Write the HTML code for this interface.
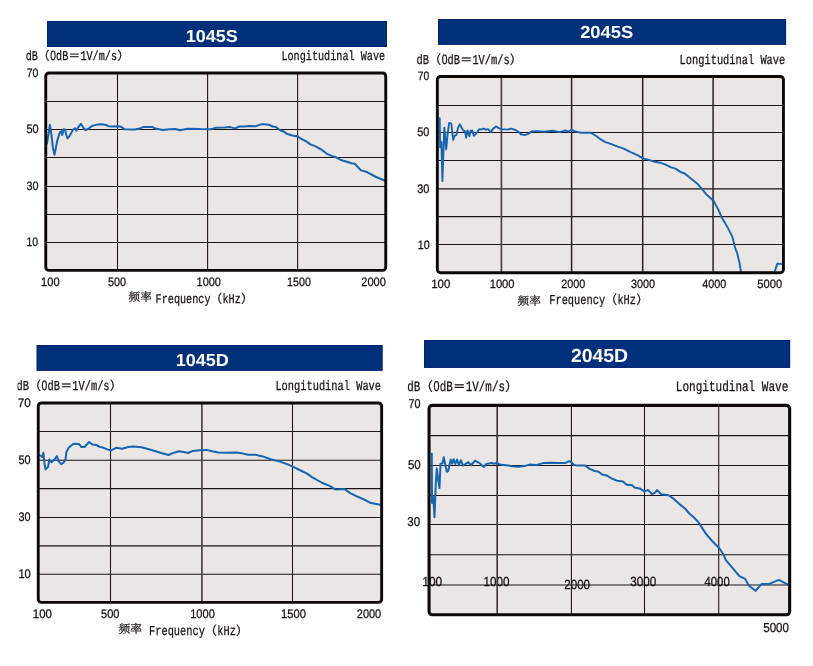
<!DOCTYPE html>
<html lang="zh">
<head>
<meta charset="utf-8">
<title>Frequency response 1045S 2045S 1045D 2045D</title>
<style>
html,body{margin:0;padding:0;background:#ffffff;}
body{width:813px;height:666px;overflow:hidden;position:relative;}
svg{position:absolute;left:0;top:0;display:block;}
text{text-rendering:geometricPrecision;}
.t{stroke:#15100e;stroke-width:0.25px;}
</style>
</head>
<body>
<svg width="813" height="666" viewBox="0 0 813 666">
<rect x="0" y="0" width="813" height="666" fill="#ffffff"/>
<rect x="47" y="21" width="340" height="26" fill="#00307c"/>
<rect x="47.5" y="21.5" width="339" height="25" fill="none" stroke="#00226e" stroke-width="1"/>
<rect x="45.75" y="72.95" width="340" height="197.4" rx="3.2" fill="#e9e6e3"/>
<clipPath id="cp1"><rect x="45.75" y="72.95" width="340" height="197.4"/></clipPath>
<line x1="45.3" y1="101.5" x2="386.2" y2="101.5" stroke="#1c1312" stroke-width="1.08"/>
<line x1="45.3" y1="129.5" x2="386.2" y2="129.5" stroke="#1c1312" stroke-width="1.08"/>
<line x1="45.3" y1="157.5" x2="386.2" y2="157.5" stroke="#1c1312" stroke-width="1.08"/>
<line x1="45.3" y1="186.5" x2="386.2" y2="186.5" stroke="#1c1312" stroke-width="1.08"/>
<line x1="45.3" y1="214.5" x2="386.2" y2="214.5" stroke="#1c1312" stroke-width="1.08"/>
<line x1="45.3" y1="242.5" x2="386.2" y2="242.5" stroke="#1c1312" stroke-width="1.08"/>
<line x1="117.5" y1="72.5" x2="117.5" y2="270.8" stroke="#1c1312" stroke-width="1.08"/>
<line x1="207.6" y1="72.5" x2="207.6" y2="270.8" stroke="#1c1312" stroke-width="1.08"/>
<line x1="297.6" y1="72.5" x2="297.6" y2="270.8" stroke="#1c1312" stroke-width="1.08"/>
<path d="M47 143.5 L48.4 134.6 L49.9 124.8 L51.4 134.6 L52.9 147.4 L54.5 154.8 L55.8 148.4 L57.3 140.5 L59.7 132.6 L61.2 131.2 L62.2 135.1 L63.7 129.2 L65.2 129.7 L66.1 134.6 L67.6 138.3 L70.1 135.1 L73 129.7 L75 128.2 L76.3 130.7 L78 127.7 L80.9 123.8 L83.4 127.7 L85.8 130.2 L88.3 128.7 L92.2 125.9 L97.1 124.6 L102.1 124.3 L106 125 L108.5 126.2 L112.9 126.5 L117.8 126.2 L120.2 126.5 L122 127.4 L124.5 129.2 L134.9 129.6 L139.8 128.6 L143.5 126.9 L152.1 126.9 L155.2 128.6 L163.2 130 L169.4 129.2 L175.5 129 L179.8 130.2 L187.8 128.7 L200.1 129.1 L211.1 129.2 L216 127.8 L224.6 127.5 L230.1 127.1 L235.1 128.4 L239.4 126.5 L244.3 126.6 L249.2 125.9 L255.4 126.2 L262.1 124.1 L268.9 124.7 L272.6 126.5 L275.6 126.9 L280 130.2 L284.3 131.8 L286.1 133.5 L292.3 135.5 L297.6 136.4 L300.5 138.5 L305.4 140.9 L310.9 144.6 L315.2 146.1 L318.3 148 L321.4 149.5 L326.9 153.8 L331.8 155.9 L336.1 157.3 L341.7 160.3 L346 161.5 L351.5 163.3 L354.8 163.7 L360.7 170.1 L367.5 172.3 L376.1 177 L384.5 180.5" fill="none" stroke="#1465b4" stroke-width="2" stroke-linejoin="round" stroke-linecap="round" clip-path="url(#cp1)"/>
<rect x="45.75" y="72.95" width="340" height="197.4" rx="3.2" fill="none" stroke="#0e0909" stroke-width="2.9"/>
<text transform="translate(185.74 41.6) scale(1.04 1)" font-family='"Liberation Sans", "IPAGothic", sans-serif' font-size="17.34" font-weight="bold" fill="#ffffff">1045S</text>
<text class="t" transform="translate(25.7 60) scale(0.76 1)" font-family='"Liberation Mono", "IPAGothic", monospace' font-size="13.38" fill="#15100e">dB</text>
<text class="t" x="37.86" y="60" font-family='"Liberation Mono", "IPAGothic", "Noto Sans CJK JP", monospace' font-size="12.16" fill="#15100e">（</text>
<text class="t" transform="translate(50.02 60) scale(0.76 1)" font-family='"Liberation Mono", "IPAGothic", monospace' font-size="13.38" fill="#15100e"><tspan font-family='"Liberation Sans", "IPAGothic", sans-serif' dx="0.29">0</tspan><tspan dx="0.29">dB</tspan></text>
<text class="t" x="68.26" y="60" font-family='"Liberation Mono", "IPAGothic", "Noto Sans CJK JP", monospace' font-size="12.16" fill="#15100e">＝</text>
<text class="t" transform="translate(80.42 60) scale(0.76 1)" font-family='"Liberation Mono", "IPAGothic", monospace' font-size="13.38" fill="#15100e">1V/m/s</text>
<text class="t" x="116.9" y="60" font-family='"Liberation Mono", "IPAGothic", "Noto Sans CJK JP", monospace' font-size="12.16" fill="#15100e">）</text>
<text class="t" transform="translate(281.4 60) scale(0.76 1)" font-family='"Liberation Mono", "IPAGothic", monospace' font-size="13.38" fill="#15100e">Longitudinal Wave</text>
<text class="t" transform="translate(26.73 76.5) scale(0.85 1)" font-family='"Liberation Sans", "IPAGothic", sans-serif' font-size="12.31" font-weight="normal" fill="#15100e">70</text>
<text class="t" transform="translate(26.42 133.3) scale(0.88 1)" font-family='"Liberation Sans", "IPAGothic", sans-serif' font-size="12.45" font-weight="normal" fill="#15100e">50</text>
<text class="t" transform="translate(26.47 189.7) scale(0.88 1)" font-family='"Liberation Sans", "IPAGothic", sans-serif' font-size="12.31" font-weight="normal" fill="#15100e">30</text>
<text class="t" transform="translate(26.47 246.2) scale(0.85 1)" font-family='"Liberation Sans", "IPAGothic", sans-serif' font-size="12.31" font-weight="normal" fill="#15100e">10</text>
<text class="t" transform="translate(41.09 286) scale(0.9 1)" font-family='"Liberation Sans", "IPAGothic", sans-serif' font-size="12.31" font-weight="normal" fill="#15100e">100</text>
<text class="t" transform="translate(107.92 286) scale(0.88 1)" font-family='"Liberation Sans", "IPAGothic", sans-serif' font-size="12.31" font-weight="normal" fill="#15100e">500</text>
<text class="t" transform="translate(196.61 286) scale(0.89 1)" font-family='"Liberation Sans", "IPAGothic", sans-serif' font-size="12.31" font-weight="normal" fill="#15100e">1000</text>
<text class="t" transform="translate(287.04 286) scale(0.87 1)" font-family='"Liberation Sans", "IPAGothic", sans-serif' font-size="12.31" font-weight="normal" fill="#15100e">1500</text>
<text class="t" transform="translate(361.22 286) scale(0.9 1)" font-family='"Liberation Sans", "IPAGothic", sans-serif' font-size="12.31" font-weight="normal" fill="#15100e">2000</text>
<text class="t" x="128.6" y="301.25" font-family='"Liberation Serif", "Noto Serif CJK SC", "Noto Sans CJK SC", serif' font-size="11.55" fill="#3a3330">频率</text>
<text class="t" transform="translate(155.6 302.5) scale(0.76 1)" font-family='"Liberation Mono", "IPAGothic", monospace' font-size="13.38" fill="#15100e">Frequency</text>
<text class="t" x="210.32" y="302.5" font-family='"Liberation Mono", "IPAGothic", "Noto Sans CJK JP", monospace' font-size="12.16" fill="#15100e">（</text>
<text class="t" transform="translate(222.48 302.5) scale(0.76 1)" font-family='"Liberation Mono", "IPAGothic", monospace' font-size="13.38" fill="#15100e">kHz</text>
<text class="t" x="240.72" y="302.5" font-family='"Liberation Mono", "IPAGothic", "Noto Sans CJK JP", monospace' font-size="12.16" fill="#15100e">）</text>
<rect x="438" y="19" width="348.05" height="25.7" fill="#00307c"/>
<rect x="438.5" y="19.5" width="347.05" height="24.7" fill="none" stroke="#00226e" stroke-width="1"/>
<rect x="437.35" y="76.45" width="346.1" height="196.3" rx="3.2" fill="#e9e6e3"/>
<clipPath id="cp2"><rect x="437.35" y="76.45" width="346.1" height="196.3"/></clipPath>
<line x1="436.9" y1="105.5" x2="783.9" y2="105.5" stroke="#1c1312" stroke-width="1.08"/>
<line x1="436.9" y1="132.5" x2="783.9" y2="132.5" stroke="#1c1312" stroke-width="1.08"/>
<line x1="436.9" y1="160.5" x2="783.9" y2="160.5" stroke="#1c1312" stroke-width="1.08"/>
<line x1="436.9" y1="188.9" x2="783.9" y2="188.9" stroke="#1c1312" stroke-width="1.08"/>
<line x1="436.9" y1="216.6" x2="783.9" y2="216.6" stroke="#1c1312" stroke-width="1.08"/>
<line x1="436.9" y1="244.5" x2="783.9" y2="244.5" stroke="#1c1312" stroke-width="1.08"/>
<line x1="501.4" y1="76" x2="501.4" y2="273.2" stroke="#4a4444" stroke-width="1.7"/>
<line x1="571.6" y1="76" x2="571.6" y2="273.2" stroke="#2a2424" stroke-width="1.5"/>
<line x1="642.7" y1="76" x2="642.7" y2="273.2" stroke="#2a2424" stroke-width="1.5"/>
<line x1="713.1" y1="76" x2="713.1" y2="273.2" stroke="#2a2424" stroke-width="1.5"/>
<path d="M439.7 118.2 L440.1 147.3 L441.4 141.9 L442.4 181.1 L443.7 144.6 L444.3 127.7 L446.2 149.3 L447.5 135.1 L449.1 123 L451.3 123.6 L453.2 139.9 L454.5 135.8 L456.3 135.1 L458.1 127.7 L459.9 124.3 L463.1 130.4 L465.1 131.4 L466.2 137.8 L467.5 130.4 L469.4 136.2 L470.5 130.8 L472.1 130.4 L473.9 135.8 L475.9 133.8 L479.3 129.1 L481.3 129.5 L483.3 128.6 L486 129.7 L488.1 129.1 L490.8 131.8 L493.5 128.4 L495.9 126.4 L498.9 128.1 L501.6 129.1 L507.4 129.6 L511.1 128.7 L515.4 130 L518.5 131.8 L520.9 134.3 L524.6 135.1 L528.3 133.9 L532 131.4 L536.9 131.2 L544.3 131.7 L552.9 130.8 L559.7 132.1 L564 130.8 L565.8 130.5 L568.3 131.7 L571.6 129.6 L575 131.4 L581.2 132.8 L591 132.7 L596.2 136 L601.1 139.7 L605.4 142.1 L612.1 144.4 L617.7 146.7 L623.2 148.3 L630.6 152.2 L638 155.4 L642.9 158.4 L647.8 159.6 L654 161.5 L660.1 162.7 L665 164.3 L671.2 167.4 L675.5 168.6 L680.4 171.9 L684.7 173.5 L689 177.1 L697.1 183.4 L702.5 189.7 L706.1 194.2 L713.3 200.5 L717.8 208.6 L722.3 218.6 L727.7 227.6 L732.3 236.6 L735 247.4 L737.3 253.7 L739.5 262.7 L741.1 272.8 L774.4 272.8 L777.3 263.6 L782.5 264.1" fill="none" stroke="#1465b4" stroke-width="1.9" stroke-linejoin="round" stroke-linecap="round" clip-path="url(#cp2)"/>
<rect x="437.35" y="76.45" width="346.1" height="196.3" rx="3.2" fill="none" stroke="#0e0909" stroke-width="2.9"/>
<text transform="translate(580.14 37.8) scale(1.05 1)" font-family='"Liberation Sans", "IPAGothic", sans-serif' font-size="17.48" font-weight="bold" fill="#ffffff">2045S</text>
<text class="t" transform="translate(416.6 63.5) scale(0.76 1)" font-family='"Liberation Mono", "IPAGothic", monospace' font-size="13.64" fill="#15100e">dB</text>
<text class="t" x="429" y="63.5" font-family='"Liberation Mono", "IPAGothic", "Noto Sans CJK JP", monospace' font-size="12.4" fill="#15100e">（</text>
<text class="t" transform="translate(441.4 63.5) scale(0.76 1)" font-family='"Liberation Mono", "IPAGothic", monospace' font-size="13.64" fill="#15100e"><tspan font-family='"Liberation Sans", "IPAGothic", sans-serif' dx="0.3">0</tspan><tspan dx="0.3">dB</tspan></text>
<text class="t" x="460" y="63.5" font-family='"Liberation Mono", "IPAGothic", "Noto Sans CJK JP", monospace' font-size="12.4" fill="#15100e">＝</text>
<text class="t" transform="translate(472.4 63.5) scale(0.76 1)" font-family='"Liberation Mono", "IPAGothic", monospace' font-size="13.64" fill="#15100e">1V/m/s</text>
<text class="t" x="509.6" y="63.5" font-family='"Liberation Mono", "IPAGothic", "Noto Sans CJK JP", monospace' font-size="12.4" fill="#15100e">）</text>
<text class="t" transform="translate(679.6 63.5) scale(0.76 1)" font-family='"Liberation Mono", "IPAGothic", monospace' font-size="13.64" fill="#15100e">Longitudinal Wave</text>
<text class="t" transform="translate(417.83 80.1) scale(0.85 1)" font-family='"Liberation Sans", "IPAGothic", sans-serif' font-size="12.17" font-weight="normal" fill="#15100e">70</text>
<text class="t" transform="translate(417.21 136.4) scale(0.88 1)" font-family='"Liberation Sans", "IPAGothic", sans-serif' font-size="12.45" font-weight="normal" fill="#15100e">50</text>
<text class="t" transform="translate(417.27 192.7) scale(0.88 1)" font-family='"Liberation Sans", "IPAGothic", sans-serif' font-size="12.45" font-weight="normal" fill="#15100e">30</text>
<text class="t" transform="translate(417.73 248.9) scale(0.88 1)" font-family='"Liberation Sans", "IPAGothic", sans-serif' font-size="12.17" font-weight="normal" fill="#15100e">10</text>
<text class="t" transform="translate(431.14 287.8) scale(0.96 1)" font-family='"Liberation Sans", "IPAGothic", sans-serif' font-size="12.03" font-weight="normal" fill="#15100e">100</text>
<text class="t" transform="translate(489.68 287.8) scale(0.93 1)" font-family='"Liberation Sans", "IPAGothic", sans-serif' font-size="12.03" font-weight="normal" fill="#15100e">1000</text>
<text class="t" transform="translate(561.33 287.8) scale(0.9 1)" font-family='"Liberation Sans", "IPAGothic", sans-serif' font-size="12.03" font-weight="normal" fill="#15100e">2000</text>
<text class="t" transform="translate(630.98 287.8) scale(0.9 1)" font-family='"Liberation Sans", "IPAGothic", sans-serif' font-size="12.03" font-weight="normal" fill="#15100e">3000</text>
<text class="t" transform="translate(702.26 287.8) scale(0.9 1)" font-family='"Liberation Sans", "IPAGothic", sans-serif' font-size="12.03" font-weight="normal" fill="#15100e">4000</text>
<text class="t" transform="translate(757.31 287.8) scale(0.93 1)" font-family='"Liberation Sans", "IPAGothic", sans-serif' font-size="12.03" font-weight="normal" fill="#15100e">5000</text>
<text class="t" x="517.6" y="305.23" font-family='"Liberation Serif", "Noto Serif CJK SC", "Noto Sans CJK SC", serif' font-size="11.65" fill="#3a3330">频率</text>
<text class="t" transform="translate(549.2 303.6) scale(0.76 1)" font-family='"Liberation Mono", "IPAGothic", monospace' font-size="13.64" fill="#15100e">Frequency</text>
<text class="t" x="605" y="303.6" font-family='"Liberation Mono", "IPAGothic", "Noto Sans CJK JP", monospace' font-size="12.4" fill="#15100e">（</text>
<text class="t" transform="translate(617.4 303.6) scale(0.76 1)" font-family='"Liberation Mono", "IPAGothic", monospace' font-size="13.64" fill="#15100e">kHz</text>
<text class="t" x="636" y="303.6" font-family='"Liberation Mono", "IPAGothic", "Noto Sans CJK JP", monospace' font-size="12.4" fill="#15100e">）</text>
<rect x="36.7" y="345" width="345.8" height="25.7" fill="#00307c"/>
<rect x="37.2" y="345.5" width="344.8" height="24.7" fill="none" stroke="#00226e" stroke-width="1"/>
<rect x="38.25" y="402.95" width="343.4" height="199.4" rx="3.2" fill="#e9e6e3"/>
<clipPath id="cp3"><rect x="38.25" y="402.95" width="343.4" height="199.4"/></clipPath>
<line x1="37.8" y1="431.5" x2="382.1" y2="431.5" stroke="#1c1312" stroke-width="1.08"/>
<line x1="37.8" y1="460.3" x2="382.1" y2="460.3" stroke="#1c1312" stroke-width="1.08"/>
<line x1="37.8" y1="488.6" x2="382.1" y2="488.6" stroke="#1c1312" stroke-width="1.08"/>
<line x1="37.8" y1="517.5" x2="382.1" y2="517.5" stroke="#1c1312" stroke-width="1.08"/>
<line x1="37.8" y1="545.9" x2="382.1" y2="545.9" stroke="#1c1312" stroke-width="1.08"/>
<line x1="37.8" y1="574.3" x2="382.1" y2="574.3" stroke="#1c1312" stroke-width="1.08"/>
<line x1="110.5" y1="402.5" x2="110.5" y2="602.8" stroke="#1c1312" stroke-width="1.08"/>
<line x1="201.9" y1="402.5" x2="201.9" y2="602.8" stroke="#4a4444" stroke-width="1.7"/>
<line x1="292.5" y1="402.5" x2="292.5" y2="602.8" stroke="#1c1312" stroke-width="1.08"/>
<path d="M39.9 455.2 L42.2 457.1 L43.4 452.8 L44.4 463.2 L45.6 469.4 L48.1 466.9 L49.3 459.5 L51.4 462.2 L54.5 459.5 L56.9 456.1 L58.8 461.4 L61.2 464.2 L63.7 462.6 L65.5 459.5 L66.4 452.1 L68.6 447.8 L73.5 443.8 L79.1 444.1 L81.5 447 L84.6 447 L88.9 442.1 L92.6 444.5 L96.3 445 L100 447 L103 447.6 L107.3 449.4 L111 450.3 L116 447.8 L122.1 448.7 L128.3 447 L133.4 446.4 L141.4 447.2 L150.6 449.7 L160.4 452.8 L168.4 455 L172.7 453.1 L178.9 451.2 L183.8 452.1 L188.1 453 L193 450.9 L199.8 450.3 L206.6 449.9 L212.1 451.2 L218.3 452.5 L225.8 452.8 L236.9 452.5 L243.1 453.6 L248 454.8 L255.4 454.8 L262.7 456.4 L271.4 459.5 L280 461.6 L287.3 464.2 L292.9 466.7 L299.6 470 L307.1 473.6 L312 477.1 L322.4 483 L328.6 485.4 L335.4 489.4 L344.6 489.1 L350.1 493.1 L356.3 496.1 L363 499 L371 503.1 L380.3 504.7" fill="none" stroke="#1465b4" stroke-width="2" stroke-linejoin="round" stroke-linecap="round" clip-path="url(#cp3)"/>
<rect x="38.25" y="402.95" width="343.4" height="199.4" rx="3.2" fill="none" stroke="#0e0909" stroke-width="2.9"/>
<text transform="translate(175.63 365.6) scale(1.04 1)" font-family='"Liberation Sans", "IPAGothic", sans-serif' font-size="17.34" font-weight="bold" fill="#ffffff">1045D</text>
<text class="t" transform="translate(16.5 389.6) scale(0.76 1)" font-family='"Liberation Mono", "IPAGothic", monospace' font-size="13.64" fill="#15100e">dB</text>
<text class="t" x="28.9" y="389.6" font-family='"Liberation Mono", "IPAGothic", "Noto Sans CJK JP", monospace' font-size="12.4" fill="#15100e">（</text>
<text class="t" transform="translate(41.3 389.6) scale(0.76 1)" font-family='"Liberation Mono", "IPAGothic", monospace' font-size="13.64" fill="#15100e"><tspan font-family='"Liberation Sans", "IPAGothic", sans-serif' dx="0.3">0</tspan><tspan dx="0.3">dB</tspan></text>
<text class="t" x="59.9" y="389.6" font-family='"Liberation Mono", "IPAGothic", "Noto Sans CJK JP", monospace' font-size="12.4" fill="#15100e">＝</text>
<text class="t" transform="translate(72.3 389.6) scale(0.76 1)" font-family='"Liberation Mono", "IPAGothic", monospace' font-size="13.64" fill="#15100e">1V/m/s</text>
<text class="t" x="109.5" y="389.6" font-family='"Liberation Mono", "IPAGothic", "Noto Sans CJK JP", monospace' font-size="12.4" fill="#15100e">）</text>
<text class="t" transform="translate(275.4 389.6) scale(0.76 1)" font-family='"Liberation Mono", "IPAGothic", monospace' font-size="13.64" fill="#15100e">Longitudinal Wave</text>
<text class="t" transform="translate(17.67 406.8) scale(0.95 1)" font-family='"Liberation Sans", "IPAGothic", sans-serif' font-size="12.45" font-weight="normal" fill="#15100e">70</text>
<text class="t" transform="translate(18.52 463.7) scale(0.88 1)" font-family='"Liberation Sans", "IPAGothic", sans-serif' font-size="12.45" font-weight="normal" fill="#15100e">50</text>
<text class="t" transform="translate(18.57 520.8) scale(0.87 1)" font-family='"Liberation Sans", "IPAGothic", sans-serif' font-size="12.45" font-weight="normal" fill="#15100e">30</text>
<text class="t" transform="translate(18.38 577.7) scale(0.9 1)" font-family='"Liberation Sans", "IPAGothic", sans-serif' font-size="12.45" font-weight="normal" fill="#15100e">10</text>
<text class="t" transform="translate(32.85 618.3) scale(0.92 1)" font-family='"Liberation Sans", "IPAGothic", sans-serif' font-size="12.45" font-weight="normal" fill="#15100e">100</text>
<text class="t" transform="translate(101.01 618.3) scale(0.89 1)" font-family='"Liberation Sans", "IPAGothic", sans-serif' font-size="12.45" font-weight="normal" fill="#15100e">500</text>
<text class="t" transform="translate(190.19 618.3) scale(0.89 1)" font-family='"Liberation Sans", "IPAGothic", sans-serif' font-size="12.45" font-weight="normal" fill="#15100e">1000</text>
<text class="t" transform="translate(281.08 618.3) scale(0.9 1)" font-family='"Liberation Sans", "IPAGothic", sans-serif' font-size="12.45" font-weight="normal" fill="#15100e">1500</text>
<text class="t" transform="translate(356.83 618.3) scale(0.88 1)" font-family='"Liberation Sans", "IPAGothic", sans-serif' font-size="12.45" font-weight="normal" fill="#15100e">2000</text>
<text class="t" x="118.6" y="633.23" font-family='"Liberation Serif", "Noto Serif CJK SC", "Noto Sans CJK SC", serif' font-size="11.75" fill="#3a3330">频率</text>
<text class="t" transform="translate(149 634.6) scale(0.76 1)" font-family='"Liberation Mono", "IPAGothic", monospace' font-size="13.64" fill="#15100e">Frequency</text>
<text class="t" x="204.8" y="634.6" font-family='"Liberation Mono", "IPAGothic", "Noto Sans CJK JP", monospace' font-size="12.4" fill="#15100e">（</text>
<text class="t" transform="translate(217.2 634.6) scale(0.76 1)" font-family='"Liberation Mono", "IPAGothic", monospace' font-size="13.64" fill="#15100e">kHz</text>
<text class="t" x="235.8" y="634.6" font-family='"Liberation Mono", "IPAGothic", "Noto Sans CJK JP", monospace' font-size="12.4" fill="#15100e">）</text>
<rect x="0" y="375" width="17.4" height="240" fill="#ffffff"/>
<rect x="424.1" y="340.1" width="366" height="27.7" fill="#00307c"/>
<rect x="424.6" y="340.6" width="365" height="26.7" fill="none" stroke="#00226e" stroke-width="1"/>
<rect x="428.95" y="405.25" width="360.8" height="209.6" rx="3.2" fill="#e9e6e3"/>
<clipPath id="cp4"><rect x="428.95" y="405.25" width="360.8" height="209.6"/></clipPath>
<text class="t" transform="translate(422.29 585.8) scale(0.91 1)" font-family='"Liberation Sans", "IPAGothic", sans-serif' font-size="13.15" font-weight="normal" fill="#15100e">100</text>
<text class="t" transform="translate(483.53 585.8) scale(0.89 1)" font-family='"Liberation Sans", "IPAGothic", sans-serif' font-size="13.15" font-weight="normal" fill="#15100e">1000</text>
<text class="t" transform="translate(564.31 588.5) scale(0.87 1)" font-family='"Liberation Sans", "IPAGothic", sans-serif' font-size="13.29" font-weight="normal" fill="#15100e">2000</text>
<text class="t" transform="translate(630.25 586) scale(0.88 1)" font-family='"Liberation Sans", "IPAGothic", sans-serif' font-size="13.29" font-weight="normal" fill="#15100e">3000</text>
<text class="t" transform="translate(704.55 586.2) scale(0.86 1)" font-family='"Liberation Sans", "IPAGothic", sans-serif' font-size="13.15" font-weight="normal" fill="#15100e">4000</text>
<line x1="428.5" y1="435.6" x2="790.2" y2="435.6" stroke="#1c1312" stroke-width="1.08"/>
<line x1="428.5" y1="465.5" x2="790.2" y2="465.5" stroke="#1c1312" stroke-width="1.08"/>
<line x1="428.5" y1="495.5" x2="790.2" y2="495.5" stroke="#1c1312" stroke-width="1.08"/>
<line x1="428.5" y1="524.5" x2="790.2" y2="524.5" stroke="#1c1312" stroke-width="1.08"/>
<line x1="428.5" y1="554.8" x2="790.2" y2="554.8" stroke="#1c1312" stroke-width="1.08"/>
<line x1="428.5" y1="585" x2="790.2" y2="585" stroke="#1c1312" stroke-width="1.08"/>
<line x1="497.2" y1="404.8" x2="497.2" y2="615.3" stroke="#3a3434" stroke-width="1.6"/>
<line x1="571.4" y1="404.8" x2="571.4" y2="615.3" stroke="#1c1312" stroke-width="1.08"/>
<line x1="644.5" y1="404.8" x2="644.5" y2="615.3" stroke="#1c1312" stroke-width="1.08"/>
<line x1="718.7" y1="404.8" x2="718.7" y2="615.3" stroke="#1c1312" stroke-width="1.08"/>
<path d="M431.8 453.8 L432 503.1 L433.3 497.1 L434.5 517.3 L435.7 485 L436.8 468.5 L438.3 480.5 L439.5 488 L440.5 464 L442.5 463.3 L443.8 457.3 L445.3 464.8 L446.8 471.8 L448.3 470.8 L449.5 464.8 L450.8 459.5 L452.1 463.7 L453.6 459.2 L455.3 464 L457.1 459.5 L458.9 465.2 L460.8 460.3 L463.1 465.5 L466.1 463.7 L468.3 462.2 L470.9 465.2 L475.1 460.7 L480.3 463.7 L483.8 467 L486.3 464 L491.6 463 L493.7 463.7 L496.8 463 L499.8 464.6 L506 465.2 L512.1 466.2 L518.3 466.7 L524.4 466.1 L529.4 464.6 L536.7 465 L542.9 463.1 L551.5 462.8 L558.9 463.1 L565 463.1 L568.7 461.3 L570.8 461.5 L573.6 464.6 L577.3 465.6 L585.2 465.5 L589.6 468.9 L594.8 471 L598.5 471.8 L602.1 474.4 L606.6 475.4 L611.7 478.5 L616.9 480.7 L622.8 481.4 L627.2 485.1 L631.7 485.1 L634.6 487.6 L640.5 488.8 L644.5 491.3 L647.9 489.9 L651.9 494 L654.5 493.1 L657 490.1 L661.2 494.3 L668.6 495.3 L674.5 499.4 L680.4 504.9 L685.5 509 L689.2 513.5 L693.7 517.2 L698.4 522.1 L705.8 533.6 L712.1 541 L719.4 548.3 L723.6 554.7 L725.7 559.9 L732 567.3 L739.4 576.1 L745.1 578.8 L748.9 585.8 L755.6 590.8 L761.5 584.1 L769.9 583.7 L778.9 579.9 L787.8 584.7" fill="none" stroke="#1465b4" stroke-width="2" stroke-linejoin="round" stroke-linecap="round" clip-path="url(#cp4)"/>
<rect x="429.05" y="405.35" width="360.6" height="209.4" rx="3.2" fill="none" stroke="#0e0909" stroke-width="3.1"/>
<text transform="translate(570.92 361.6) scale(1.02 1)" font-family='"Liberation Sans", "IPAGothic", sans-serif' font-size="19.02" font-weight="bold" fill="#ffffff">2045D</text>
<text class="t" transform="translate(407.3 391.4) scale(0.76 1)" font-family='"Liberation Mono", "IPAGothic", monospace' font-size="14.3" fill="#15100e">dB</text>
<text class="t" x="420.3" y="391.4" font-family='"Liberation Mono", "IPAGothic", "Noto Sans CJK JP", monospace' font-size="13" fill="#15100e">（</text>
<text class="t" transform="translate(433.3 391.4) scale(0.76 1)" font-family='"Liberation Mono", "IPAGothic", monospace' font-size="14.3" fill="#15100e"><tspan font-family='"Liberation Sans", "IPAGothic", sans-serif' dx="0.31">0</tspan><tspan dx="0.31">dB</tspan></text>
<text class="t" x="452.8" y="391.4" font-family='"Liberation Mono", "IPAGothic", "Noto Sans CJK JP", monospace' font-size="13" fill="#15100e">＝</text>
<text class="t" transform="translate(465.8 391.4) scale(0.76 1)" font-family='"Liberation Mono", "IPAGothic", monospace' font-size="14.3" fill="#15100e">1V/m/s</text>
<text class="t" x="504.8" y="391.4" font-family='"Liberation Mono", "IPAGothic", "Noto Sans CJK JP", monospace' font-size="13" fill="#15100e">）</text>
<text class="t" transform="translate(675.8 391.2) scale(0.76 1)" font-family='"Liberation Mono", "IPAGothic", monospace' font-size="14.52" fill="#15100e">Longitudinal Wave</text>
<text class="t" transform="translate(408.41 408.4) scale(0.84 1)" font-family='"Liberation Sans", "IPAGothic", sans-serif' font-size="12.87" font-weight="normal" fill="#15100e">70</text>
<text class="t" transform="translate(407.9 468.6) scale(0.89 1)" font-family='"Liberation Sans", "IPAGothic", sans-serif' font-size="12.87" font-weight="normal" fill="#15100e">50</text>
<text class="t" transform="translate(407.25 526.1) scale(0.9 1)" font-family='"Liberation Sans", "IPAGothic", sans-serif' font-size="12.87" font-weight="normal" fill="#15100e">30</text>
<text class="t" transform="translate(763.2 632) scale(0.89 1)" font-family='"Liberation Sans", "IPAGothic", sans-serif' font-size="13.01" font-weight="normal" fill="#15100e">5000</text>
</svg>
</body>
</html>
